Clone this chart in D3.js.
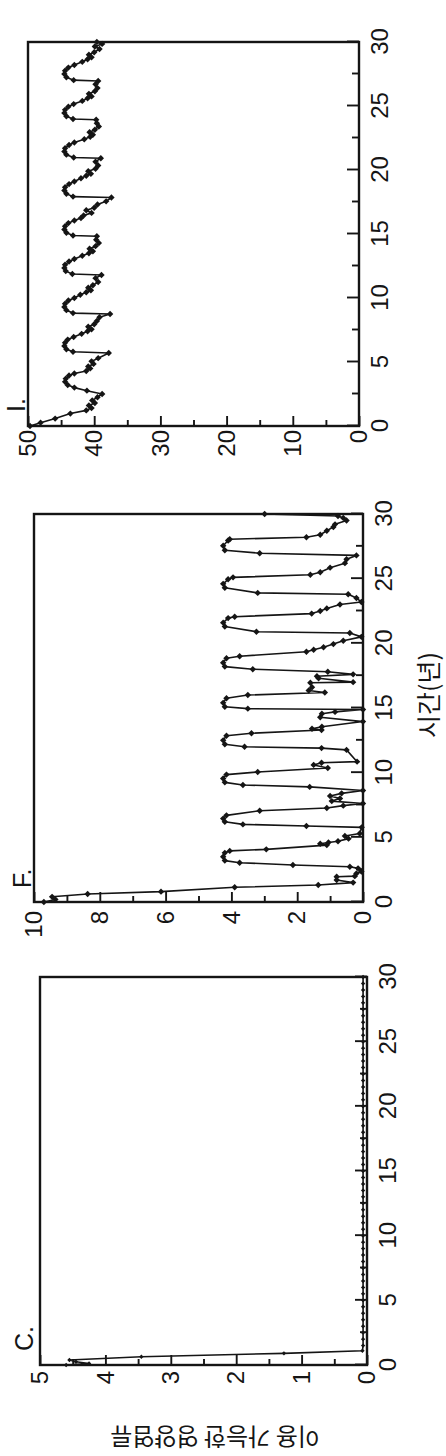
<!DOCTYPE html>
<html><head><meta charset="utf-8">
<script src="https://cdn.jsdelivr.net/npm/d3@7"></script>
<style>html,body{margin:0;padding:0;background:#fff;} svg{display:block;}</style>
</head><body>
<script>
// ---- data ----
const panelLabels = ["C.", "F.", "I."];
const xAxisTitle = "시간(년)";
const yAxisTitle = "이용 가능한 영양염류";
const timeTicks = [0, 5, 10, 15, 20, 25, 30];
const timeMinorTicks = [2.5, 7.5, 12.5, 17.5, 22.5, 27.5];

const cValueTicks = [0, 1, 2, 3, 4, 5];
const cValueMinor = [0.5, 1.5, 2.5, 3.5, 4.5];
const fValueTicks = [0, 2, 4, 6, 8, 10];
const fValueMinor = [1, 3, 5, 7, 9];
const iValueTicks = [0, 10, 20, 30, 40, 50];
const iValueMinor = [5, 15, 25, 35, 45];

const cTime = [0, 0.12, 0.25, 0.39, 0.64, 0.9, 1.1, 1.5, 2, 2.5, 3, 3.5, 4, 4.5, 5, 5.5, 6, 6.5, 7, 7.5, 8, 8.5, 9, 9.5, 10,
  10.5, 11, 11.5, 12, 12.5, 13, 13.5, 14, 14.5, 15, 15.5, 16, 16.5, 17, 17.5, 18, 18.5, 19, 19.5, 20,
  20.5, 21, 21.5, 22, 22.5, 23, 23.5, 24, 24.5, 25, 25.5, 26, 26.5, 27, 27.5, 28, 28.5, 29, 29.5, 30];
const cValue = [4.60, 4.25, 4.45, 4.55, 3.45, 1.27, 0.07, 0.06, 0.06, 0.06, 0.06, 0.06, 0.06, 0.06, 0.06, 0.06, 0.06, 0.06, 0.06, 0.06, 0.06, 0.06, 0.06, 0.06, 0.06,
  0.06, 0.06, 0.06, 0.06, 0.06, 0.06, 0.06, 0.06, 0.06, 0.06, 0.06, 0.06, 0.06, 0.06, 0.06, 0.06, 0.06, 0.06, 0.06, 0.06,
  0.06, 0.06, 0.06, 0.06, 0.06, 0.06, 0.06, 0.06, 0.06, 0.06, 0.06, 0.06, 0.06, 0.06, 0.06, 0.06, 0.06, 0.06, 0.06, 0.06];

const fTime = [0, 0.2, 0.4, 0.62, 0.8, 1.14, 1.31, 1.5, 1.7, 1.95, 2.0, 2.2, 2.35, 2.6, 2.73, 2.86, 3.04, 3.2, 3.5, 3.8, 3.95,
  4.07, 4.4, 4.5, 4.6, 4.7, 4.9, 5.1, 5.3, 5.77, 5.88, 6.0, 6.2, 6.45, 6.7, 7.06, 7.27, 7.45, 7.62, 7.8, 8.0, 8.2, 8.4, 8.62,
  8.9, 9.05, 9.25, 9.55, 9.85, 10.05, 10.36, 10.6, 10.77, 10.85, 11.76, 11.9, 12.0, 12.2, 12.5, 12.85, 13.05, 13.3, 13.4,
  13.55, 13.95, 14.28, 14.55, 14.7, 14.88, 14.95, 15.1, 15.4, 15.75, 16.0, 16.2, 16.35, 16.6, 16.95, 17.0, 17.3, 17.45,
  17.6, 17.8, 18.0, 18.2, 18.5, 18.85, 19.0, 19.35, 19.5, 19.7, 19.94, 20.2, 20.5, 20.8, 20.9, 21.3, 21.6, 21.95, 22.06,
  22.3, 22.5, 22.7, 23.0, 23.2, 23.5, 23.8, 23.9, 24.3, 24.6, 24.95, 25.1, 25.3, 25.5, 25.85, 26.2, 26.5, 26.8, 26.97,
  27.2, 27.55, 27.95, 28.05, 28.2, 28.4, 28.7, 29.0, 29.2, 29.5, 29.7, 29.85, 30.0];
const fValue = [9.70, 9.35, 9.45, 8.37, 6.14, 3.90, 1.36, 0.30, 0.80, 0.80, 0.25, 0.20, 0.05, 0.15, 0.40, 2.13, 3.75, 4.20, 4.25, 4.20, 4.05,
  2.94, 1.10, 1.30, 1.05, 0.76, 0.44, 0.55, 0.10, 0.04, 1.72, 3.65, 4.20, 4.25, 4.15, 3.14, 1.10, 0.60, 0.00, 0.95, 0.70, 1.00, 0.65, 0.00,
  1.62, 3.65, 4.20, 4.25, 4.15, 3.20, 1.07, 1.50, 1.26, 0.18, 0.50, 1.26, 3.60, 4.20, 4.25, 4.15, 3.39, 1.26, 1.55,
  1.25, 0.00, 1.30, 1.25, 0.85, 0.00, 3.50, 4.20, 4.25, 4.15, 3.50, 1.16, 1.65, 1.55, 1.60, 0.30, 1.35, 1.40,
  0.30, 1.07, 3.35, 4.20, 4.25, 4.15, 3.75, 1.72, 1.50, 1.20, 0.90, 0.60, 0.05, 0.40, 3.24, 4.20, 4.25, 4.10, 3.90,
  1.56, 1.30, 1.10, 0.70, 0.05, 0.20, 0.45, 3.20, 4.20, 4.25, 4.10, 3.95, 1.60, 1.30, 1.00, 0.55, 0.50, 0.20, 3.14,
  4.20, 4.25, 4.10, 4.05, 1.72, 1.30, 1.10, 0.90, 0.85, 0.50, 0.60, 0.76, 2.99];

const iTime = [0, 0.26, 0.58, 0.97, 1.22, 1.4, 1.6, 1.8, 2.0, 2.25, 2.5, 2.76, 3.0, 3.2, 3.45, 3.7, 3.95, 4.1, 4.3, 4.5, 4.65,
  4.85, 5.05, 5.3, 5.7, 5.8, 6.0, 6.25, 6.5, 6.75, 6.95, 7.2, 7.4, 7.55, 7.75, 7.95, 8.2, 8.5, 8.75, 8.82, 9.05, 9.3, 9.55,
  9.8, 10.0, 10.25, 10.45, 10.6, 10.8, 11.0, 11.25, 11.55, 11.8, 11.87, 12.1, 12.35, 12.6, 12.85, 13.05, 13.3, 13.5, 13.65,
  13.85, 14.05, 14.3, 14.55, 14.82, 14.88, 15.1, 15.35, 15.6, 15.85, 16.05, 16.25, 16.45, 16.65, 16.85, 17.05, 17.3, 17.55,
  17.85, 17.92, 18.15, 18.4, 18.65, 18.9, 19.1, 19.35, 19.55, 19.7, 19.9, 20.1, 20.35, 20.65, 20.92, 20.98, 21.2, 21.45,
  21.7, 21.95, 22.15, 22.4, 22.6, 22.75, 22.95, 23.15, 23.4, 23.65, 23.92, 23.98, 24.2, 24.45, 24.7, 24.95, 25.15, 25.4,
  25.6, 25.75, 25.95, 26.15, 26.4, 26.7, 26.95, 27.02, 27.25, 27.5, 27.75, 28.0, 28.2, 28.45, 28.65, 28.8, 29.0, 29.2,
  29.45, 29.65, 29.85, 30.0];
const iValue = [49.7, 48.1, 45.9, 43.6, 41.2, 40.4, 40.8, 39.9, 40.3, 39.5, 38.8, 41.1, 43.0, 44.0, 44.4, 44.3, 43.8, 43.0, 41.2, 40.6, 40.9,
  40.1, 40.4, 39.4, 37.8, 43.2, 44.2, 44.5, 44.4, 44.0, 43.1, 41.9, 41.0, 40.4, 40.9, 40.0, 39.6, 39.2, 37.6, 43.2, 44.2, 44.5, 44.4,
  43.9, 43.0, 42.1, 41.2, 40.5, 40.9, 40.2, 39.4, 39.8, 38.9, 43.3, 44.3, 44.5, 44.4, 43.8, 43.0, 41.8, 40.8, 40.2,
  40.7, 39.8, 39.3, 39.7, 39.6, 43.2, 44.2, 44.5, 44.4, 43.9, 43.0, 42.0, 41.6, 40.4, 41.2, 40.0, 39.5, 38.2,
  37.4, 43.2, 44.2, 44.5, 44.4, 43.8, 43.0, 42.0, 41.2, 40.5, 40.9, 39.8, 39.4, 39.8, 39.0, 43.1, 44.2, 44.5,
  44.4, 43.8, 43.0, 41.5, 40.6, 40.2, 40.7, 39.9, 39.3, 39.6, 39.7, 43.2, 44.2, 44.5, 44.4, 43.9, 43.1, 41.8,
  41.0, 40.4, 40.8, 39.9, 39.5, 39.8, 39.4, 43.1, 44.2, 44.5, 44.4, 43.9, 43.0, 41.8, 41.0, 40.4, 40.8, 40.0,
  39.2, 39.9, 38.8, 39.6];

// ---- drawing ----
const W = 446, H = 1456;
const svg = d3.select("body").append("svg").attr("width", W).attr("height", H)
  .style("background", "#fff");
// whole figure is drawn upright, then turned 90° counter-clockwise
const root = svg.append("g").attr("transform", `translate(0,${H}) rotate(-90)`);

const ink = "#151515";
const numFont = "'Liberation Sans', Arial, Helvetica, sans-serif";
const krFont = "'Noto Sans CJK KR', 'Noto Sans', sans-serif";

const layouts = [
  {label: panelLabels[0], t: cTime, v: cValue, max: 5, major: cValueTicks, minor: cValueMinor,
   x0: 91, x1: 479, yTop: 40, yBot: 367, gap: 6, ms: 2.2, ly: 33},
  {label: panelLabels[1], t: fTime, v: fValue, max: 10, major: fValueTicks, minor: fValueMinor,
   x0: 554, x1: 942, yTop: 34, yBot: 363, gap: 9, ms: 3.2, ly: 31},
  {label: panelLabels[2], t: iTime, v: iValue, max: 50, major: iValueTicks, minor: iValueMinor,
   x0: 1030, x1: 1414, yTop: 28, yBot: 359, gap: 4, ms: 3.2, ly: 25}
];

function diamond(r) { return `M0,${-r}L${r},0L0,${r}L${-r},0Z`; }

layouts.forEach(p => {
  const x = d3.scaleLinear().domain([0, 30]).range([p.x0, p.x1]);
  const y = d3.scaleLinear().domain([0, p.max]).range([p.yBot, p.yTop]);
  const g = root.append("g");

  g.append("g").attr("transform", `translate(0,${p.yBot})`)
    .call(d3.axisBottom(x).tickValues(timeMinorTicks).tickSizeInner(-7).tickSizeOuter(0).tickFormat(""));
  g.append("g").attr("transform", `translate(0,${p.yBot})`)
    .call(d3.axisBottom(x).tickValues(timeTicks).tickSizeInner(-12).tickSizeOuter(0).tickPadding(12).tickFormat(d3.format("d")));
  g.append("g").attr("transform", `translate(${p.x0},0)`)
    .call(d3.axisLeft(y).tickValues(p.minor).tickSizeInner(-6).tickSizeOuter(0).tickFormat(""));
  g.append("g").attr("transform", `translate(${p.x0},0)`)
    .call(d3.axisLeft(y).tickValues(p.major).tickSizeInner(-10).tickSizeOuter(0).tickPadding(p.gap).tickFormat(d3.format("d")));
  g.selectAll(".domain").remove();
  g.selectAll(".tick line").attr("stroke", ink).attr("stroke-width", 1.9);
  g.selectAll(".tick text").attr("font-family", numFont).attr("font-size", 24).attr("fill", ink);

  g.append("rect").attr("x", p.x0).attr("y", p.yTop)
    .attr("width", p.x1 - p.x0).attr("height", p.yBot - p.yTop)
    .attr("fill", "none").attr("stroke", ink).attr("stroke-width", 2.4);

  const pts = p.t.map((t, i) => [t, p.v[i]]);
  g.append("path").datum(pts)
    .attr("d", d3.line().x(d => x(d[0])).y(d => y(d[1])))
    .attr("fill", "none").attr("stroke", ink).attr("stroke-width", 1.6).attr("stroke-linejoin", "round");
  g.selectAll("path.mk").data(pts).join("path").attr("class", "mk")
    .attr("transform", d => `translate(${x(d[0])},${y(d[1])})`)
    .attr("d", diamond(p.ms)).attr("fill", ink);

  g.append("text").attr("x", p.x0 + 14).attr("y", p.ly)
    .attr("font-family", numFont).attr("font-size", 25).attr("fill", ink).text(p.label);
});

root.append("text").attr("x", 761).attr("y", 438).attr("text-anchor", "middle")
  .attr("font-family", krFont).attr("font-size", 25).attr("fill", ink).text(xAxisTitle);

root.append("text").attr("transform", "translate(28,215) rotate(-90)").attr("text-anchor", "middle")
  .attr("font-family", krFont).attr("font-size", 24).attr("fill", ink).text(yAxisTitle);
</script>
</body></html>
